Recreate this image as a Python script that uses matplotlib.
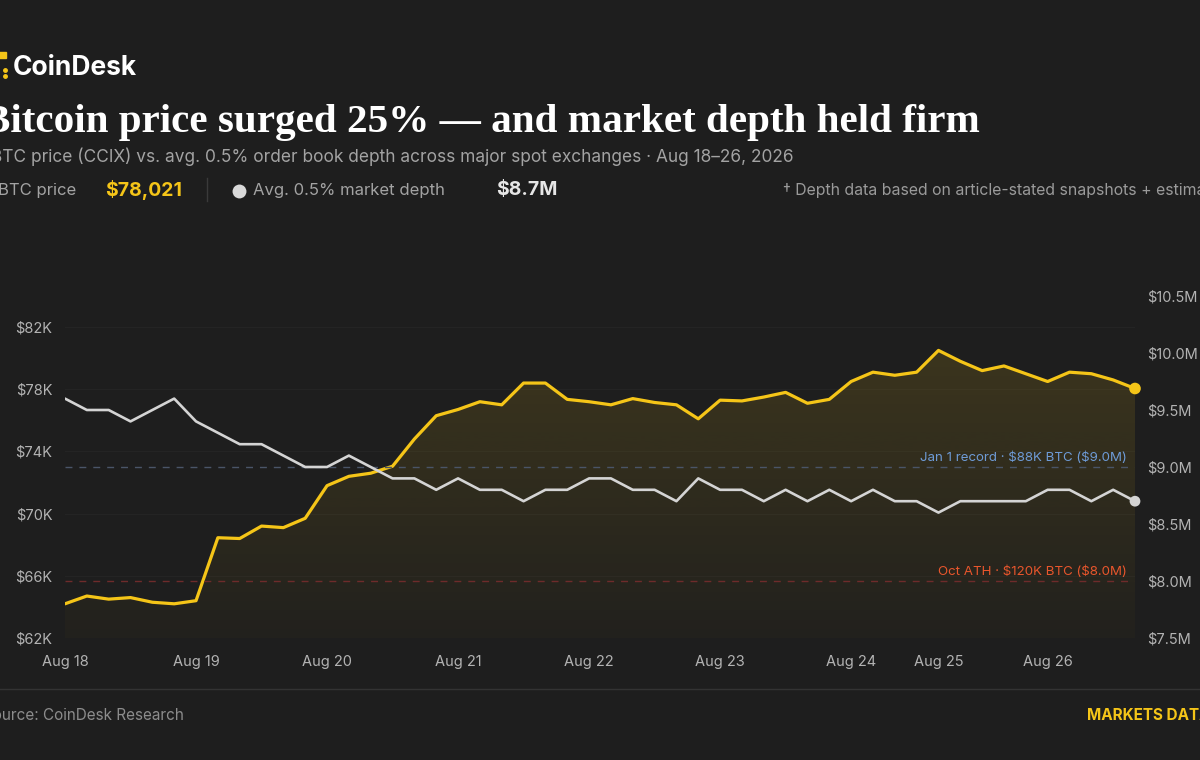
import numpy as np
import matplotlib
matplotlib.use("Agg")
import matplotlib.pyplot as plt
from matplotlib.patches import Rectangle
from matplotlib.lines import Line2D

plt.rcParams['font.family'] = ['Inter', 'DejaVu Sans']

# BTC price (CCIX), $K, one point every 4 hours, Aug 18 -> Aug 26
btc_price = [64.2, 64.7, 64.5, 64.6, 64.3, 64.2, 64.4, 68.45, 68.4, 69.2,
             69.1, 69.7, 71.8, 72.4, 72.6, 73.05, 74.8, 76.3, 76.7, 77.2,
             77.0, 78.4, 78.4, 77.35, 77.2, 77.0, 77.4, 77.15, 77.0, 76.1,
             77.3, 77.25, 77.5, 77.8, 77.1, 77.35, 78.5, 79.1, 78.9, 79.1,
             80.5, 79.8, 79.2, 79.5, 79.0, 78.5, 79.1, 79.0, 78.6, 78.05]

# avg. 0.5% market depth, $M
depth = [9.6, 9.5, 9.5, 9.4, 9.5, 9.6, 9.4, 9.3, 9.2, 9.2,
         9.1, 9.0, 9.0, 9.1, 9.0, 8.9, 8.9, 8.8, 8.9, 8.8,
         8.8, 8.7, 8.8, 8.8, 8.9, 8.9, 8.8, 8.8, 8.7, 8.9,
         8.8, 8.8, 8.7, 8.8, 8.7, 8.8, 8.7, 8.8, 8.7, 8.7,
         8.6, 8.7, 8.7, 8.7, 8.7, 8.8, 8.8, 8.7, 8.8, 8.7]

tick_idx = [0, 6, 12, 18, 24, 30, 36, 40, 45]
tick_labels = ['Aug 18', 'Aug 19', 'Aug 20', 'Aug 21', 'Aug 22', 'Aug 23',
               'Aug 24', 'Aug 25', 'Aug 26']

price_ticks = [62, 66, 70, 74, 78, 82]
depth_ticks = [7.5, 8.0, 8.5, 9.0, 9.5, 10.0, 10.5]

ref_levels = [9.0, 8.0]
ref_labels = [r'Jan 1 record · \$88K BTC (\$9.0M)', r'Oct ATH · \$120K BTC (\$8.0M)']
ref_text_colors = ['#6e9bd6', '#e8562c']
ref_line_colors = ['#4a5568', '#6e2b2b']

BG = '#1e1e1e'
YELLOW = '#f5c518'
WHITE = '#d4d4d4'
GRAY = '#a3a3a3'

W, H = 1200, 760
fig = plt.figure(figsize=(12, 7.6), dpi=100, facecolor=BG)


def fx(px):
    return px / W


def fy(py):
    return 1 - py / H


ax = fig.add_axes([fx(65), fy(638), fx(1135 - 65), (638 - 296) / H])
ax.set_facecolor(BG)
x = np.arange(len(btc_price))

# gradient fill under the price line
fill = ax.fill_between(x, btc_price, 62, facecolor='none', edgecolor='none')
grad = np.zeros((256, 1, 4))
grad[:, 0, 0] = 245 / 255
grad[:, 0, 1] = 197 / 255
grad[:, 0, 2] = 24 / 255
grad[:, 0, 3] = np.linspace(0.14, 0.02, 256)
img = ax.imshow(grad, extent=[0, len(btc_price) - 1, 62, 80.5], aspect='auto',
                origin='upper', zorder=1)
img.set_clip_path(fill.get_paths()[0], transform=ax.transData)
ax.set_xlim(0, len(btc_price) - 1)
ax.set_ylim(62, 84)

ax.plot(x, btc_price, color=YELLOW, lw=2.3, solid_joinstyle='round',
        solid_capstyle='round', zorder=4)
ax.scatter([x[-1]], [btc_price[-1]], s=70, color=YELLOW, zorder=5,
           edgecolors='none', clip_on=False)

ax.set_yticks(price_ticks)
ax.set_yticklabels([f'${v}K' for v in price_ticks])
ax.set_xticks(tick_idx)
ax.set_xticklabels(tick_labels)
ax.tick_params(axis='y', length=0, pad=9, labelsize=10.5, labelcolor='#b3b3b3')
ax.tick_params(axis='x', length=0, pad=12, labelsize=10.5, labelcolor='#b3b3b3')
ax.grid(axis='y', color='#242424', lw=0.8)
ax.set_axisbelow(True)
for s in ax.spines.values():
    s.set_visible(False)

ax2 = ax.twinx()
ax2.set_ylim(7.5, 10.5)
ax2.set_yticks(depth_ticks)
ax2.set_yticklabels([f'${v:.1f}M' for v in depth_ticks])
ax2.tick_params(axis='y', length=0, pad=9, labelsize=10.5, labelcolor='#b3b3b3')
for s in ax2.spines.values():
    s.set_visible(False)

for lvl, lab, tc, lc in zip(ref_levels, ref_labels, ref_text_colors, ref_line_colors):
    ax2.axhline(lvl, color=lc, lw=1, ls=(0, (5, 5)), zorder=2)
    ax2.annotate(lab, xy=(len(depth) - 1, lvl), xytext=(-6, 2.5),
                 textcoords='offset points', ha='right', va='bottom',
                 color=tc, fontsize=9.6)

ax2.plot(x, depth, color=WHITE, lw=1.9, solid_joinstyle='round',
         solid_capstyle='round', zorder=4)
ax2.scatter([x[-1]], [depth[-1]], s=60, color=WHITE, zorder=5,
            edgecolors='none', clip_on=False)

# header
fig.patches.append(Rectangle((fx(-4), fy(58)), fx(10), 6 / H, color=YELLOW,
                             transform=fig.transFigure, figure=fig))
fig.lines.append(Line2D([fx(5), fx(5)], [fy(70), fy(76)], ls='none', marker='o',
                        ms=2.5, color=YELLOW, transform=fig.transFigure))
fig.text(fx(13), fy(68), 'CoinDesk', color='white', fontsize=19,
         fontweight='bold', va='center', ha='left')
fig.text(fx(-17), fy(132), 'Bitcoin price surged 25% — and market depth held firm',
         color='white', fontsize=29.6, fontweight='bold', va='baseline',
         ha='left', family=['Liberation Serif', 'DejaVu Serif'])
fig.text(fx(-9), fy(157),
         'BTC price (CCIX) vs. avg. 0.5% order book depth across major spot exchanges · Aug 18–26, 2026',
         color=GRAY, fontsize=12.45, va='center', ha='left')

# legend row
fig.text(fx(-2), fy(190), 'BTC price', color=GRAY, fontsize=12, va='center')
fig.text(fx(105), fy(190), '$78,021', color=YELLOW, fontsize=14,
         fontweight='bold', va='center')
fig.lines.append(Line2D([fx(207), fx(207)], [fy(178), fy(201)], color='#3a3a3a',
                        lw=1, transform=fig.transFigure))
fig.lines.append(Line2D([fx(239)], [fy(191)], ls='none', marker='o', ms=10,
                        color='#d9d9d9', markeredgewidth=0,
                        transform=fig.transFigure))
fig.text(fx(253), fy(190), 'Avg. 0.5% market depth', color=GRAY, fontsize=12,
         va='center')
fig.text(fx(496), fy(190), '$8.7M', color='#e6e6e6', fontsize=14,
         fontweight='bold', va='center')
fig.text(fx(783), fy(190), '† Depth data based on article-stated snapshots + estimates',
         color='#9a9a9a', fontsize=11.4, va='center')

# footer
fig.lines.append(Line2D([0, 1], [fy(689), fy(689)], color='#333333', lw=1,
                        transform=fig.transFigure))
fig.text(fx(-17), fy(715), 'Source: CoinDesk Research', color='#8c8c8c',
         fontsize=11, va='center')
fig.text(fx(1087), fy(715), 'MARKETS DATA', color=YELLOW, fontsize=11,
         fontweight='bold', va='center')

fig.savefig('out.png', dpi=100, facecolor=BG)
